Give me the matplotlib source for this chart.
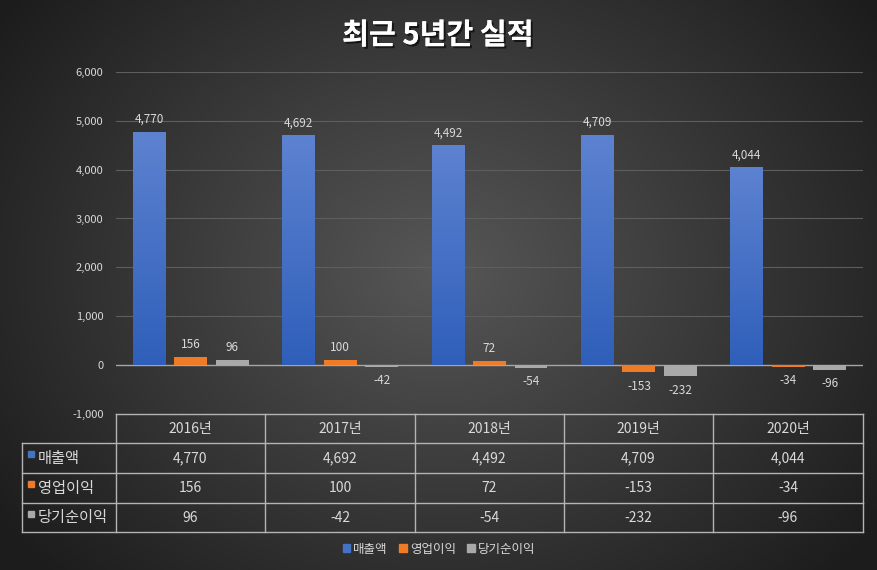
import matplotlib
matplotlib.use('Agg')
import matplotlib.pyplot as plt
import matplotlib.patches as mpatches
import matplotlib.patheffects as pe
from matplotlib.colors import LinearSegmentedColormap
import numpy as np

plt.rcParams['font.family'] = ['Noto Sans CJK KR', 'DejaVu Sans']

title = '최근 5년간 실적'
years = ['2016년', '2017년', '2018년', '2019년', '2020년']
series = ['매출액', '영업이익', '당기순이익']
sales = [4770, 4692, 4492, 4709, 4044]
op_income = [156, 100, 72, -153, -34]
net_income = [96, -42, -54, -232, -96]
yticks = [-1000, 0, 1000, 2000, 3000, 4000, 5000, 6000]

colors = ['#4472c4', '#f07b26', '#a9a9a9']
txt = '#d9d9d9'
W, H = 878, 570

fig = plt.figure(figsize=(W / 100, H / 100), dpi=100)

# background radial gradient
bg = fig.add_axes([0, 0, 1, 1], zorder=0)
yy, xx = np.mgrid[0:H, 0:W]
d = np.sqrt(((xx - 440) / 520.0) ** 2 + ((yy - 270) / 420.0) ** 2)
v = np.clip(0.34 - 0.22 * d, 0.11, 0.34)
bg.imshow(np.dstack([v, v, v]), extent=[0, W, H, 0], aspect='auto')
bg.set_xlim(0, W)
bg.set_ylim(H, 0)
bg.axis('off')

# main bar axes
ax = fig.add_axes([116 / W, 1 - 413.8 / H, (863 - 116) / W, (413.8 - 72) / H], zorder=1)
ax.patch.set_alpha(0)
x = np.arange(len(years))
wd = 0.22
off = 0.278
vals = [sales, op_income, net_income]
conts = []
for k, (vs, c) in enumerate(zip(vals, colors)):
    b = ax.bar(x + (k - 1) * off, vs, wd, color=c, zorder=3, label=series[k])
    conts.append(b)

# gradient on blue bars
cmap = LinearSegmentedColormap.from_list('bl', ['#2f5fba', '#5d82d0'])
grad = np.linspace(0, 1, 256).reshape(-1, 1)
for r in conts[0]:
    x0, y0, w0, h0 = r.get_x(), r.get_y(), r.get_width(), r.get_height()
    ax.imshow(grad, cmap=cmap, origin='lower', extent=[x0, x0 + w0, y0, y0 + h0],
              aspect='auto', zorder=4)

for b, vs in zip(conts, vals):
    for r, val in zip(b, vs):
        cx = r.get_x() + r.get_width() / 2
        dy = 9 if val >= 0 else -10
        ax.annotate(f'{val:,}', (cx, val), xytext=(0, dy), textcoords='offset points',
                    ha='center', va='center', color=txt, fontsize=8.5, zorder=5)

ax.set_xlim(-0.5, len(years) - 0.5)
ax.set_ylim(-1000, 6000)
ax.set_yticks(yticks)
ax.set_yticklabels([f'{t:,}' for t in yticks])
ax.tick_params(axis='y', length=0, pad=9, labelcolor=txt, labelsize=8)
ax.set_xticks([])
for t in yticks:
    if t in (-1000,):
        continue
    ax.axhline(t, color='#a6a6a6' if t == 0 else '#5e5e5e',
               lw=1.0 if t == 0 else 0.8, zorder=2)
for s in ax.spines.values():
    s.set_visible(False)

# overlay for title, table and legend
ov = fig.add_axes([0, 0, 1, 1], zorder=2)
ov.patch.set_alpha(0)
ov.set_xlim(0, W)
ov.set_ylim(H, 0)
ov.axis('off')

ov.text(438, 35, title, ha='center', va='center', color='white', fontsize=21,
        fontweight='bold',
        path_effects=[pe.withSimplePatchShadow(offset=(1.5, -1.5), shadow_rgbFace='black', alpha=0.6),
                      pe.Normal()])

lc = '#b4b4b4'
cols = [116, 265, 415, 564, 713, 863]
rows = [414, 443, 473, 503, 532]
ov.plot([cols[0], cols[-1]], [rows[0], rows[0]], color=lc, lw=1)
for r in rows[1:]:
    ov.plot([22, cols[-1]], [r, r], color=lc, lw=1)
ov.plot([22, 22], [rows[1], rows[-1]], color=lc, lw=1)
for c in cols:
    ov.plot([c, c], [rows[0], rows[-1]], color=lc, lw=1)

for j, yr in enumerate(years):
    cx = (cols[j] + cols[j + 1]) / 2
    ov.text(cx, (rows[0] + rows[1]) / 2, yr, ha='center', va='center', color=txt, fontsize=10)
for i, (name, vs) in enumerate(zip(series, vals)):
    cy = (rows[i + 1] + rows[i + 2]) / 2
    ov.add_patch(mpatches.Rectangle((28, cy - 7), 6, 6, color=colors[i]))
    ov.text(38, cy, name, ha='left', va='center', color=txt, fontsize=11)
    for j, val in enumerate(vs):
        cx = (cols[j] + cols[j + 1]) / 2
        ov.text(cx, cy, f'{val:,}', ha='center', va='center', color=txt, fontsize=10)

handles = [mpatches.Patch(color=c, label=s) for c, s in zip(colors, series)]
fig.legend(handles=handles, loc='center', bbox_to_anchor=(0.5, 1 - 549 / H), ncol=3,
           frameon=False, fontsize=9, labelcolor=txt, handlelength=0.6, handleheight=0.6,
           handletextpad=0.25, columnspacing=0.9)

fig.savefig('out.png', dpi=100)
